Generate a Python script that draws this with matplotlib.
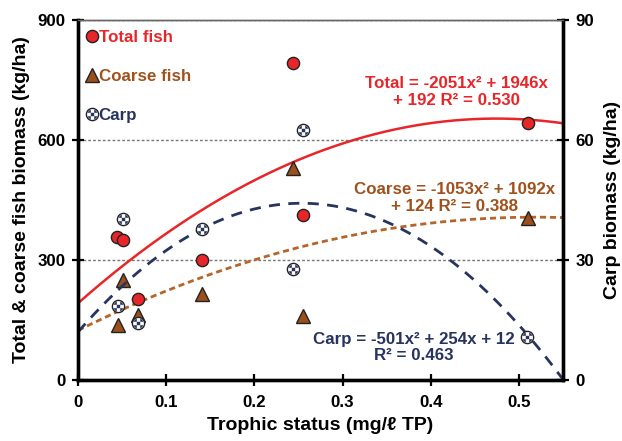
'''
Fish biomass vs trophic status, with quadratic trendlines
'''

import numpy as np
import matplotlib
matplotlib.use('Agg')
import matplotlib.pyplot as plt
from matplotlib.path import Path
from matplotlib.lines import Line2D
from matplotlib.legend_handler import HandlerTuple

plt.rcParams['font.family'] = ['Liberation Sans', 'DejaVu Sans']
plt.rcParams['font.weight'] = 'bold'

# data
total_x = [0.044, 0.051, 0.068, 0.141, 0.244, 0.255, 0.510]
total_y = [358, 350, 203, 300, 792, 412, 642]
coarse_x = [0.051, 0.045, 0.068, 0.141, 0.244, 0.255, 0.510]
coarse_y = [250, 138, 162, 214, 530, 160, 405]
carp_x = [0.051, 0.045, 0.068, 0.141, 0.255, 0.244, 0.509]
carp_y = [40.2, 18.5, 14.3, 37.7, 62.5, 27.7, 10.8]

# trendline coefficients as printed on the chart (a, b, c)
total_fit = [-2051, 1946, 192]
coarse_fit = [-1053, 1092, 124]
carp_fit = [-501, 254, 12]

x_ticks = [0, 0.1, 0.2, 0.3, 0.4, 0.5]
x_labels = ['0', '0.1', '0.2', '0.3', '0.4', '0.5']
left_ticks = [0, 300, 600, 900]
right_ticks = [0, 30, 60, 90]

RED = '#E8262A'
BROWN = '#A0521E'
TRI = '#9B4F1B'
NAVY = '#27345F'


def checker_marker(n=3, r=1.0):
    # checkerboard clipped to a circle, used as a marker path
    verts, codes = [], []
    step = 2 * r / n
    for i in range(n):
        for j in range(n):
            if (i + j) % 2 == 1:
                continue
            x0, y0 = -r + i * step, -r + j * step
            pts = []
            for t in np.linspace(0, 1, 12, endpoint=False):
                pts.append((x0 + t * step, y0))
            for t in np.linspace(0, 1, 12, endpoint=False):
                pts.append((x0 + step, y0 + t * step))
            for t in np.linspace(0, 1, 12, endpoint=False):
                pts.append((x0 + step - t * step, y0 + step))
            for t in np.linspace(0, 1, 12, endpoint=False):
                pts.append((x0, y0 + step - t * step))
            pts = np.array(pts)
            rad = np.hypot(pts[:, 0], pts[:, 1])
            out = rad > r
            pts[out] = pts[out] / rad[out][:, None] * r
            verts.extend(pts.tolist())
            verts.append(pts[0].tolist())
            codes.extend([Path.MOVETO] + [Path.LINETO] * (len(pts) - 1) + [Path.CLOSEPOLY])
    # invisible anchors so the marker keeps full size
    for px, py in [(-r, 0), (r, 0), (0, -r), (0, r)]:
        verts.extend([[px, py], [px, py]])
        codes.extend([Path.MOVETO, Path.LINETO])
    return Path(verts, codes)


CHECK = checker_marker()

fig = plt.figure(figsize=(6.22, 4.41), dpi=100)
ax = fig.add_axes([0.1254, 0.1383, 0.7797, 0.8163])
ax2 = ax.twinx()

xs = np.linspace(0, 0.55, 200)
ax.plot(xs, np.polyval(total_fit, xs), color=RED, lw=1.8, zorder=2)
ax.plot(xs, np.polyval(coarse_fit, xs), color='#B5652A', lw=2, ls=(0, (2.2, 1.4)), zorder=2)
ax2.plot(xs, np.polyval(carp_fit, xs), color=NAVY, lw=2, ls=(0, (4, 3)), zorder=2)

ax.plot(total_x, total_y, 'o', ms=8.8, mfc=RED, mec='#222222', mew=1, ls='none', zorder=4)
ax.plot(coarse_x, coarse_y, '^', ms=9.5, mfc=TRI, mec='#222222', mew=1, ls='none', zorder=4)
ax2.plot(carp_x, carp_y, 'o', ms=8.8, mfc='white', mec='#222222', mew=1, ls='none', zorder=4)
ax2.plot(carp_x, carp_y, marker=CHECK, ms=7.4, mfc=NAVY, mec='none', mew=0, ls='none', zorder=5)

ax.set_xlim(0, 0.55)
ax.set_ylim(0, 900)
ax2.set_ylim(0, 90)
ax.set_xticks(x_ticks)
ax.set_xticklabels(x_labels)
ax.set_yticks(left_ticks)
ax2.set_yticks(right_ticks)

ax.yaxis.grid(True, color='#777777', lw=1, ls=(0, (2, 1.5)))
ax.set_axisbelow(True)

for a in (ax, ax2):
    for s in ('left', 'right', 'bottom'):
        a.spines[s].set_linewidth(2.4)
        a.spines[s].set_color('black')
    a.spines['top'].set_linewidth(1)
    a.spines['top'].set_color('#666666')
    a.tick_params(direction='inout', length=8, width=1.6, labelsize=12.2, pad=5)

ax.tick_params(axis='x', pad=7)
ax.set_xlabel('Trophic status (mg/ℓ TP)', fontsize=14, fontweight='bold', labelpad=5)
ax.set_ylabel('Total & coarse fish biomass (kg/ha)', fontsize=14, fontweight='bold', labelpad=5)
ax2.set_ylabel('Carp biomass (kg/ha)', fontsize=14, fontweight='bold', labelpad=7)

ax.text(0.4295, 720, 'Total = -2051x² + 1946x\n+ 192 R² = 0.530', color=RED,
        fontsize=12.2, fontweight='bold', ha='center', va='center', linespacing=1.1)
ax.text(0.427, 455, 'Coarse = -1053x² + 1092x\n+ 124 R² = 0.388', color=BROWN,
        fontsize=12.2, fontweight='bold', ha='center', va='center', linespacing=1.1)
ax2.text(0.381, 8.1, 'Carp = -501x² + 254x + 12\nR² = 0.463', color=NAVY,
         fontsize=12.2, fontweight='bold', ha='center', va='center', linespacing=1.1)

h_total = Line2D([], [], marker='o', ms=8.8, mfc=RED, mec='#222222', mew=1, ls='none')
h_coarse = Line2D([], [], marker='^', ms=9.5, mfc=TRI, mec='#222222', mew=1, ls='none')
h_carp = (Line2D([], [], marker='o', ms=8.8, mfc='white', mec='#222222', mew=1, ls='none'),
          Line2D([], [], marker=CHECK, ms=7.4, mfc=NAVY, mec='none', ls='none'))
leg = ax2.legend([h_total, h_coarse, h_carp], ['Total fish', 'Coarse fish', 'Carp'],
                 handler_map={tuple: HandlerTuple(ndivide=1)},
                 loc='upper left', bbox_to_anchor=(-0.008, 1.005), frameon=False,
                 handlelength=0.75, handletextpad=0.0, labelspacing=1.42,
                 borderaxespad=0.3, prop={'size': 12.2, 'weight': 'bold'},
                 labelcolor=[RED, BROWN, NAVY])

fig.savefig('out.png', dpi=100)
